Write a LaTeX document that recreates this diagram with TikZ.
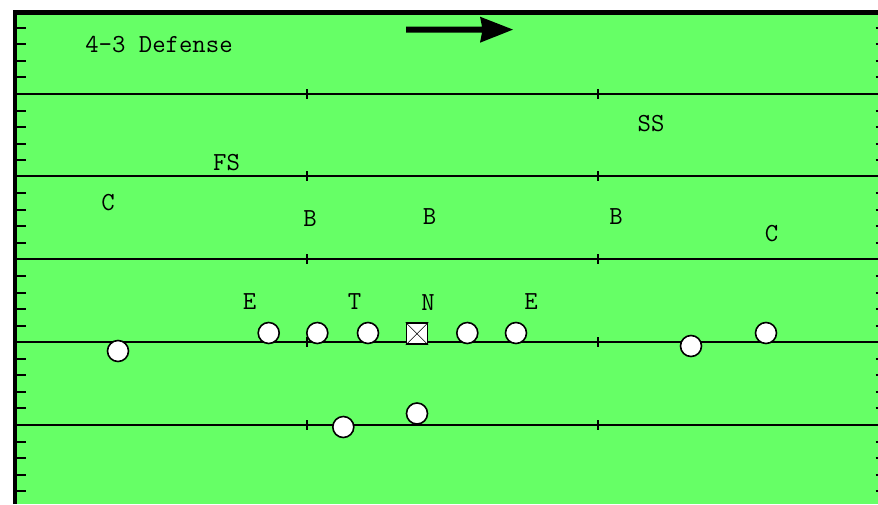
\documentclass[tikz,border=0pt]{standalone}
\usepackage{fontspec}
\definecolor{turf}{RGB}{102,255,102}
\tikzset{
  yardline/.style={line width=2pt, black},
  hashmark/.style={line width=1.5pt, black},
  sideline/.style={line width=4.6pt, black},
  lbl/.style={inner sep=0pt, font=\fontsize{26}{26}\selectfont\ttfamily},
  player/.style={circle, draw=black, line width=1.6pt, fill=white, minimum size=21pt, inner sep=0pt},
  center/.style={rectangle, draw=black, line width=1.6pt, fill=white, minimum size=21pt, inner sep=0pt}
}
\begin{document}
\begin{tikzpicture}[x=1pt, y=-1pt]
  \useasboundingbox (0,0) rectangle (878,504);
  \fill[white] (0,0) rectangle (878,504);
  % playing surface
  \fill[turf] (15,12.5) rectangle (878,504);
  % yard lines with hash marks
  \foreach \yy in {94,176,259,342,425} {
    \draw[yardline] (15,\yy) -- (878,\yy);
    \draw[hashmark] (307,\yy-5) -- (307,\yy+5);
    \draw[hashmark] (598,\yy-5) -- (598,\yy+5);
  }
  % one-yard ticks along both edges
  \foreach \j in {1,...,29} {
    \pgfmathtruncatemacro{\r}{mod(\j,5)}
    \ifnum\r>0
      \pgfmathsetmacro{\yy}{round(11.25+16.55*\j)}
      \draw[hashmark] (15,\yy) -- (26,\yy);
      \draw[hashmark] (875.5,\yy) -- (878,\yy);
    \fi
  }
  % field border
  \draw[sideline] (15,504) -- (15,12.5) -- (878,12.5);
  % direction of play
  \fill[black] (406,26.7) -- (482,26.7) -- (480,16.7) -- (513,29.6)
               -- (480,42.7) -- (482,32.6) -- (406,32.6) -- cycle;
  % title
  \node[lbl] (title) at (159,45) {4-3 Defense};
  % defense
  \node[lbl] (ss) at (651,124) {SS};
  \node[lbl] (fs) at (226.5,163) {FS};
  \node[lbl] (cl) at (108,203) {C};
  \node[lbl] (b1) at (310,219) {B};
  \node[lbl] (b2) at (429.5,217) {B};
  \node[lbl] (b3) at (616,217) {B};
  \node[lbl] (cr) at (771.5,234) {C};
  \node[lbl] (e1) at (249.5,302) {E};
  \node[lbl] (t1) at (354.5,302) {T};
  \node[lbl] (n1) at (428,303) {N};
  \node[lbl] (e2) at (531,302) {E};
  % offense
  \node[player] (wl) at (118,351) {};
  \node[player] (te) at (268.7,333) {};
  \node[player] (lt) at (317.3,333) {};
  \node[player] (lg) at (368,333) {};
  \node[center] (c) at (417,333.7) {};
  \draw[line width=0.6pt] (c.north west) -- (c.south east) (c.north east) -- (c.south west);
  \node[player] (rg) at (467.3,333) {};
  \node[player] (rt) at (516,333) {};
  \node[player] (sl) at (691,346) {};
  \node[player] (wr) at (766,333) {};
  \node[player] (qb) at (417,413.5) {};
  \node[player] (rb) at (343.3,427) {};
\end{tikzpicture}
\end{document}
